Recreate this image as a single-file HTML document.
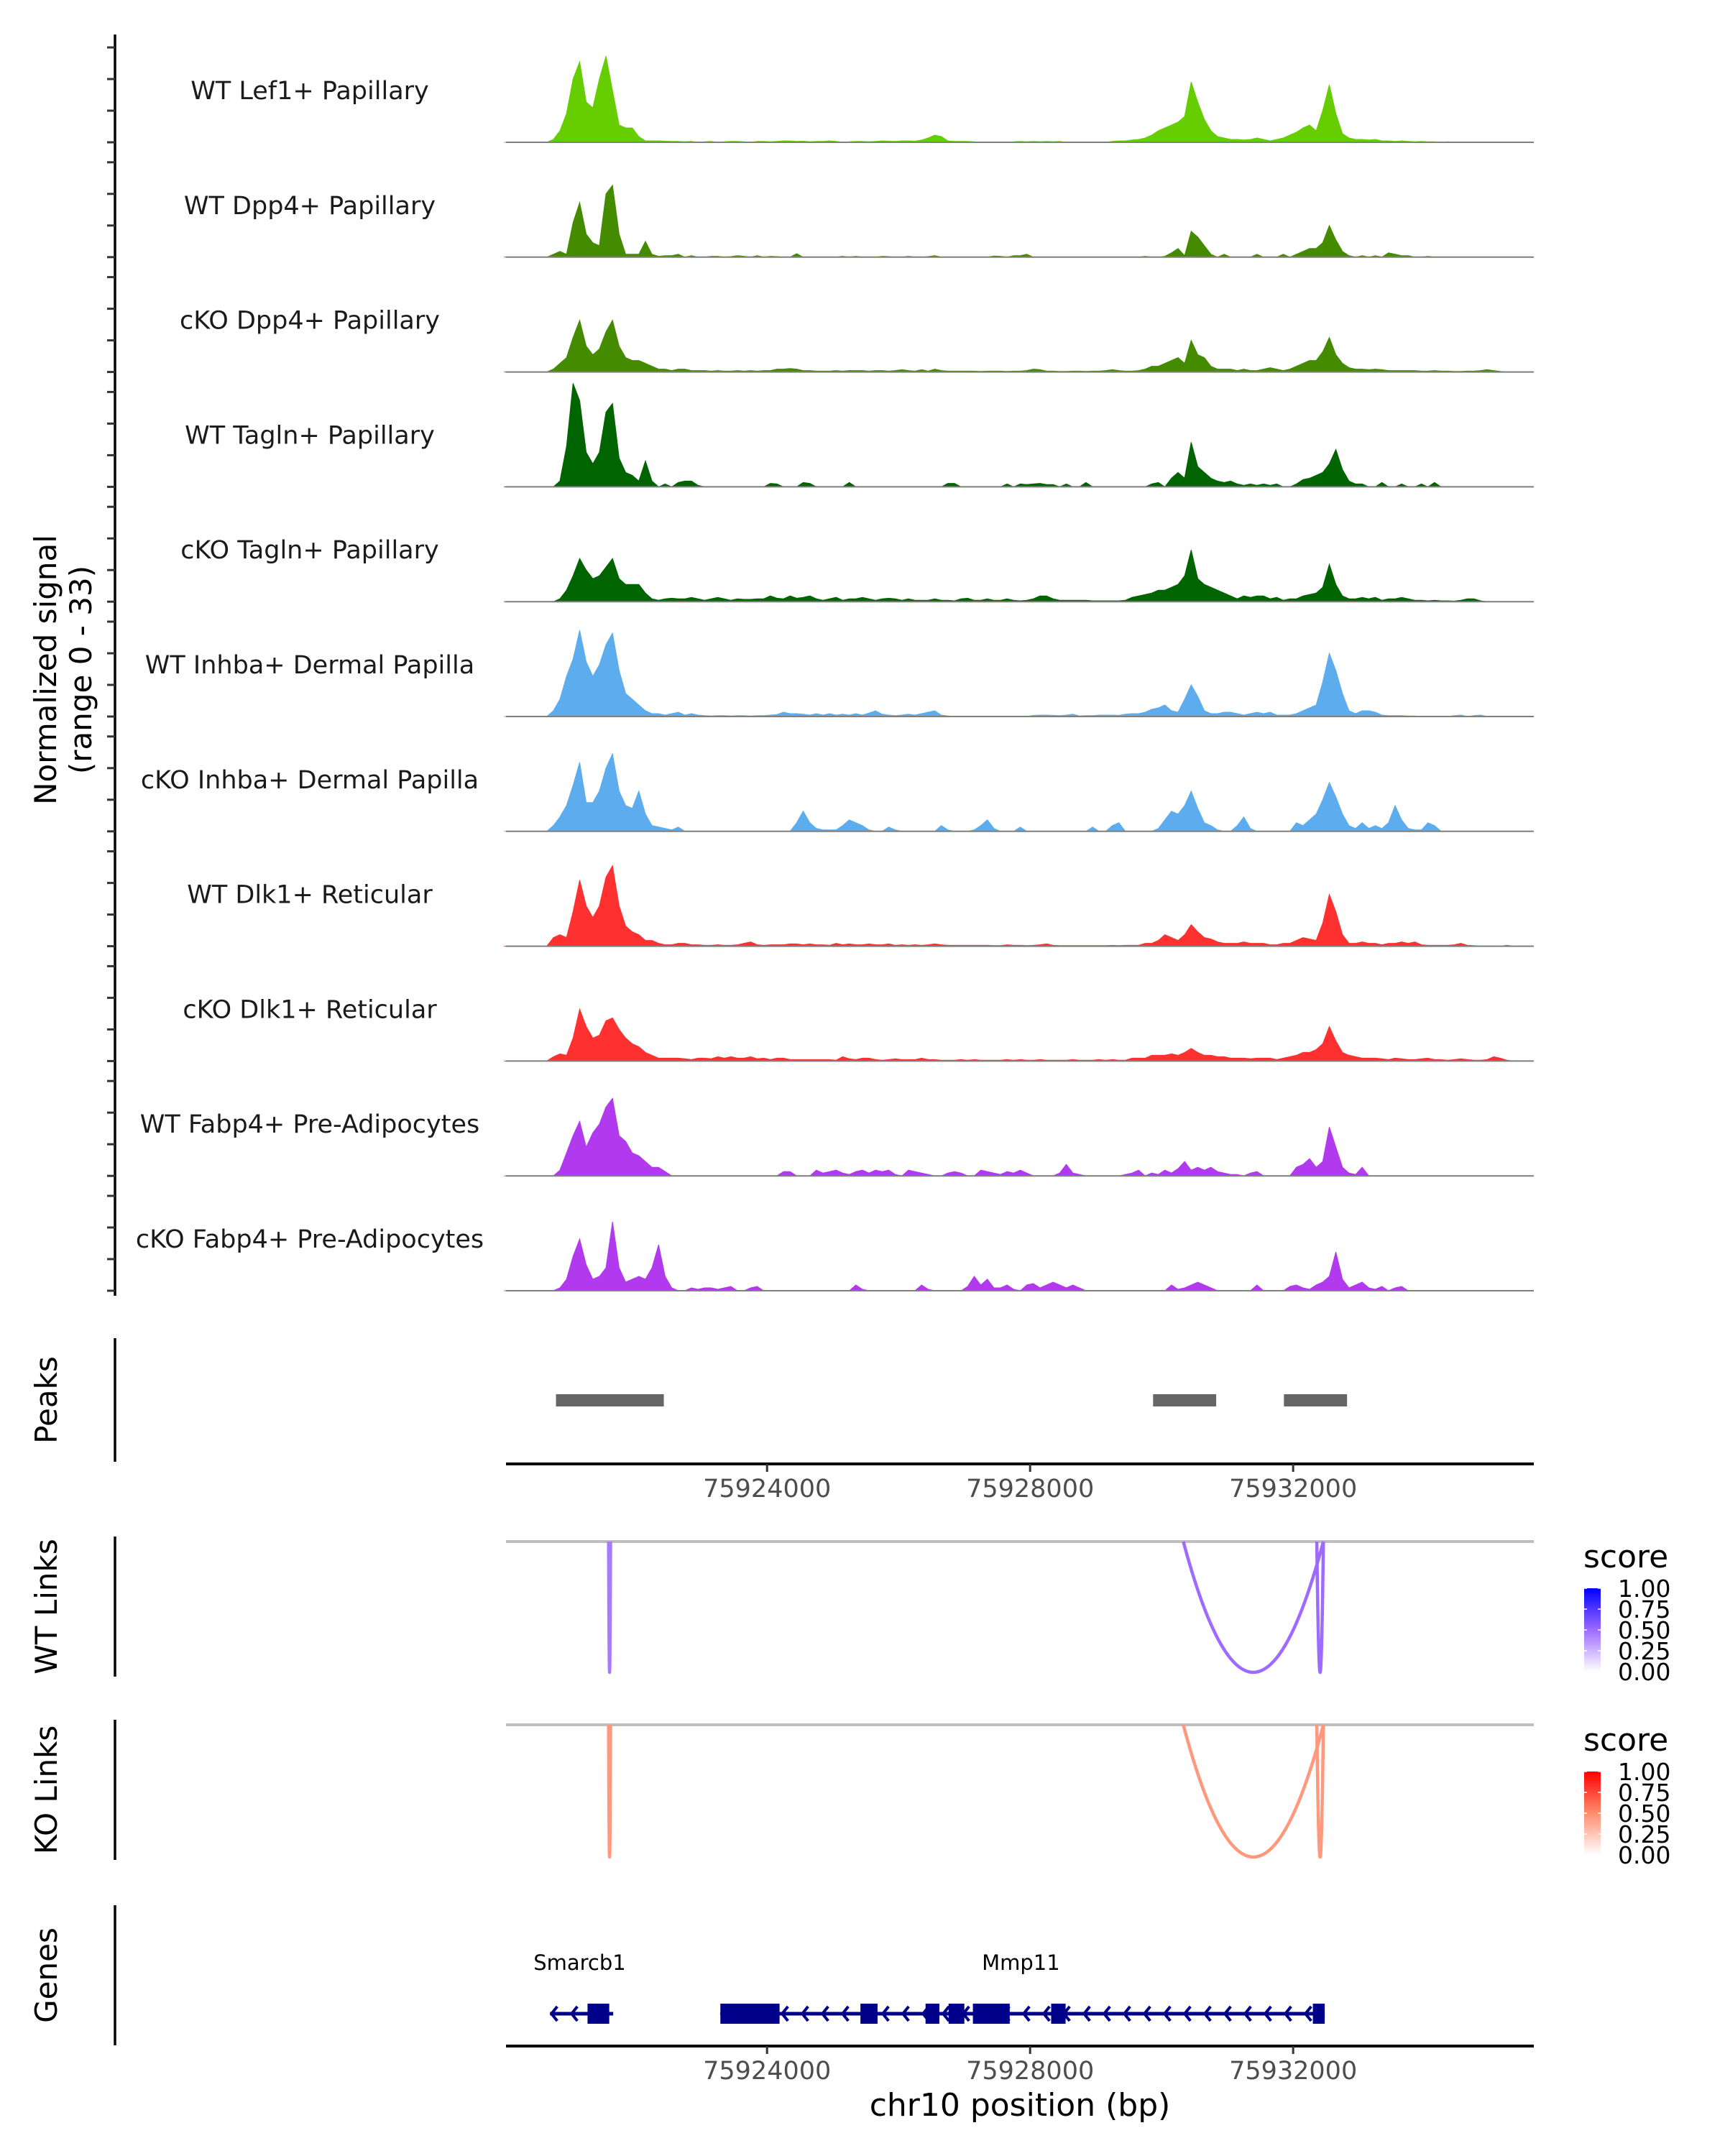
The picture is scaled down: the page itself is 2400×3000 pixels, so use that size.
<!DOCTYPE html>
<html><head><meta charset="utf-8"><style>
html,body{margin:0;padding:0;background:#fff;}
svg{display:block;font-family:"DejaVu Sans","Liberation Sans",sans-serif;}
</style></head><body>
<svg id="chart" width="2400" height="3000" viewBox="0 0 2400 3000" xmlns="http://www.w3.org/2000/svg">
<g id="tracks"></g>
<g id="yaxis"></g>
<text transform="translate(78,932) rotate(-90)" text-anchor="middle" font-size="42" fill="#000">Normalized signal</text>
<text transform="translate(127,932) rotate(-90)" text-anchor="middle" font-size="42" fill="#000">(range 0 - 33)</text>
<g id="peaks"></g>
<g id="links"></g>
<g id="genes"></g>
</svg>
<script>
const NS="http://www.w3.org/2000/svg";
const trackNames=["WT Lef1+ Papillary","WT Dpp4+ Papillary","cKO Dpp4+ Papillary","WT Tagln+ Papillary","cKO Tagln+ Papillary","WT Inhba+ Dermal Papilla","cKO Inhba+ Dermal Papilla","WT Dlk1+ Reticular","cKO Dlk1+ Reticular","WT Fabp4+ Pre-Adipocytes","cKO Fabp4+ Pre-Adipocytes"];
const trackColors=["#66cd00","#458b00","#458b00","#006400","#006400","#5cacee","#5cacee","#ff3030","#ff3030","#b23aee","#b23aee"];
const binStart=75920000, binSize=100;
const sigLef1=[0,0,0,0,0,0,0,1,4,10,22,28,14,12,22,30,18,6,5,5,
2,0.5,0.5,0.5,0.4,0.3,0.3,0.2,0.3,0,0.2,0.3,0,0.2,0.3,0.3,0.2,0,0.3,0.3,
0.2,0.3,0.5,0.5,0.3,0.4,0.2,0.3,0.3,0.5,0.3,0,0.2,0.3,0.3,0.2,0.3,0.5,0.4,0.3,
0.5,0.5,0.4,0.8,1.5,2.5,2,0.5,0.3,0.3,0.3,0.2,0,0,0,0,0,0.2,0.3,0.2,
0.3,0.2,0.3,0.2,0.3,0,0,0,0,0,0,0,0.3,0.5,0.5,0.8,1,1.5,2.5,4,
5,6,7,9,21,14,8,4,2,1.5,1,1,0.8,1,1.5,1,0.5,1,1.5,2.5,
3.5,5,6,4,11,20,10,3,1.5,1,1,0.8,1,0.5,0.5,0.3,0.5,0.3,0.2,0.3,
0.2,0.2,0,0.2,0,0,0,0,0,0,0,0,0,0,0,0];
const sigDpp4WT=[0,0,0,0,0,0,0,1,2,1,12,19,8,5,4,22,25,8,1,1,
1,5.5,1,0.3,0.5,0.5,1,0,0.5,0,0,0.3,0.3,0,0.2,0.5,0.3,0,0.5,0,
0.3,0.2,0,0,1.2,0,0,0,0,0,0,0.3,0,0.3,0,0,0,0.3,0.2,0,
0,0.3,0,0,0.2,0.5,0,0,0,0,0,0,0,0,0.4,0.3,0,0.5,0.5,1,
0,0,0,0,0,0,0,0,0,0,0,0,0,0,0,0,0,0.3,0,0,
0.3,1.5,3,0.5,9,7,4,1,0,1,0,0,0,0,1,0,0,0,1,0,
1,2,3,3,5,11,6,2,0.5,0,0.5,0,0.5,0,1.5,1,0.5,0.5,0,0,
0.3,0,0,0,0,0,0,0,0,0,0,0,0,0,0,0];
const sigDpp4KO=[0,0,0,0,0,0,0,1,3,5,12,18,9,6,8,14,18,9,5,4,
4,3,2,1,1,0.5,1,1,0.5,0.5,0.5,0.3,0.5,0.3,0.3,0.5,0.3,0.5,0.3,0.5,
0.5,1,1,1.2,1,0.5,0.5,0.3,0.3,0.3,0.5,0.3,0.5,0.5,0.5,0.3,0.5,0.5,0.3,0.5,
0.8,0.5,0.3,0.8,0.3,1,0.5,0.3,0.3,0.3,0.3,0.3,0.2,0.3,0.3,0.3,0.2,0.3,0.3,0.5,
1,0.8,0.3,0.3,0.2,0.2,0.3,0.3,0.2,0.3,0.3,0.5,0.8,0.5,0.3,0.3,0.5,1,2,2,
3,4,5,3,11,6,5,2,1,1,1,0.5,1,0.5,0.5,1,1.5,1,0.5,1,
2,3,4,4,7,12,6,3,1.5,1,1,0.8,1,0.8,0.5,0.5,0.5,0.5,0.5,0.3,
0.3,0.5,0.3,0.3,0.2,0.2,0.3,0.3,0.5,0.8,0.5,0.2,0,0,0,0];
const sigTaglnWT=[0,0,0,0,0,0,0,0,2,14,36,30,12,8,12,26,29,10,5,4,
2,9,2,0,1,0,1.5,2,2,0.5,0,0,0,0,0,0,0,0,0,0,
1.2,1,0,0,0,1.5,1.2,0,0,0,0,0,1.5,0,0,0,0,0,0,0,
0,0,0,0,0,0,0,1.2,1.2,0,0,0,0,0,0,0,1,0,1,0.8,
1,1.2,0.8,0.8,0,1,0,0,1.5,0,0,0,0,0,0,0,0,0,1,1.5,
0,3,5,3,15.5,7,5,3,2,1.5,2,1,0.5,1,0.5,1,0.5,1,0,0,
1,2.5,3,4,5,8,13,6,2,1,1,0,0,1.5,0,0,1,0,0,1,
0,1.5,0,0,0,0,0,0,0,0,0,0,0,0,0,0];
const sigTaglnKO=[0,0,0,0,0,0,0,0,1,4,9,15,11,8,9,12,15,8,6,6,
6,3,1,0.5,1,1.2,1,1,1.5,1,0.5,1,1.5,1,0.5,1,0.8,0.8,1,1,
2,1.2,1,2,1.2,1.5,2,1,0.5,1,1.5,0.5,1,1,1.5,1,0.5,1,1.2,1,
0.5,1,0.5,0.5,0.5,1,0.5,0.5,0.3,1,1.2,0.5,0.5,1,0.5,0.5,1,0.5,0.3,0.5,
1,2,2,1,0.5,0.5,0.5,0.5,0.5,0.3,0.3,0.3,0.3,0.3,0.5,1.5,2,2.5,3,4,
4,5,6,9,18,8,6,5,4,3,2,1,2,1.5,2,2,1,1.5,0.5,1,
1,2,2.5,3,5,13,6,2,1,1,1.5,1,1.5,0.5,1,1,1.5,1,0.5,0.5,
0.3,0.5,0.3,0.3,0.2,0.5,1,1,0.3,0,0,0,0,0,0,0];
const sigInhbaWT=[0,0,0,0,0,0,0,2,6,14,20,30,19,14,18,25,29,16,8,6,
4,2,1,1,0.5,1,1.5,0.5,1,0.5,0.3,0.2,0.3,0.3,0.2,0.3,0.3,0.2,0.3,0.3,
0.5,0.7,1.5,1,1,0.8,0.5,1,0.5,1,0.5,0.8,0.5,1,0.5,1.2,2,0.8,0.5,0.3,
0.5,0.8,0.5,1,1.5,2,0.5,0.2,0,0,0,0,0,0,0,0,0,0,0,0,
0.4,0.5,0.5,0.4,0.3,0.5,0.8,0.2,0.3,0.3,0.5,0.5,0.5,0.4,0.8,1,1,1.5,2.5,3,
4,2,1.5,6,11,7,2,1,1,1.5,1.5,1,0.5,1,1.5,1,1.5,0.5,0.5,0.5,
1,2,3,4,12,22,16,8,2,1,2,2,1.5,0.5,0.3,0.3,0.3,0.2,0.2,0,
0,0,0,0,0.3,0.5,0,0.3,0.5,0,0,0,0,0,0,0];
const sigInhbaKO=[0,0,0,0,0,0,0,2,5,9,16,24,10,10,14,22,27,14,9,8,
14,6,2,1.5,1,0.5,1.5,0,0,0,0,0,0,0,0,0,0,0,0,0,
0,0,0,0,3,7,3,1,0.5,0.5,0.5,2,4,3,2,0.5,0,0,1.5,0.5,
0,0,0,0,0,0,2,0.5,0,0,0,0.5,2,4,1,0,0,0,1.5,0,
0,0,0,0,0,0,0,0,0,1.5,0,0,2,3,0,0,0,0,0,1,
4,7,6,9,14,8,3,2,0.5,0,0,2,5,1,0,0,0,0,0,0,
3,2,4,6,11,17,12,6,2,1,3,1,2,1,3,9,4,1,0.5,0.5,
3,2,0,0,0,0,0,0,0,0,0,0,0,0,0,0];
const sigDlk1WT=[0,0,0,0,0,0,0,3,4,3,12,23,14,10,14,24,28,14,7,5,
4,2,2,1,0.5,0.5,1,1,0.5,0.5,0.3,0.3,0.5,0.3,0.3,0.5,1,1.5,0.5,0.3,
0.5,0.5,0.5,0.8,0.8,0.5,0.8,0.5,0.5,0.3,1,0.5,0.8,0.5,0.5,0.8,0.5,0.5,0.8,0.3,
0.5,0.3,0.5,0.3,0.5,0.8,0.5,0.3,0.3,0.3,0.3,0.3,0.3,0.3,0.2,0.2,0.5,0.3,0.3,0.2,
0.3,0.5,0.8,0.3,0.2,0.2,0.2,0.2,0.2,0.2,0.2,0.2,0.3,0.2,0.3,0.3,0.3,1,1,2,
4,3,2,4,7.5,5,3,2.5,1.5,1,1,1,1.5,1,1,1,0.5,0.5,1,1,
2,3,2.5,2,8,18,12,4,1,1,1.5,1,1,0.5,1,1,1.5,1,1.5,0.5,
0.3,0.3,0.3,0.3,0.5,1,0.3,0.2,0,0,0,0,0.3,0,0,0];
const sigDlk1KO=[0,0,0,0,0,0,0,1.5,2.5,2,8,18,12,8,9,14,15,11,8,6,
5,3,2,1,1,1,1,0.8,0.5,1,1,0.8,1.5,1,1.5,1,1,1.5,0.8,1,
0.5,1,1,0.5,0.5,0.5,0.5,0.5,0.5,0.5,0.3,1.5,0.8,0.5,1,1,0.5,0.3,0.5,0.8,
0.5,0.5,0.5,1,0.5,0.5,0.3,0.3,0.3,0.5,0.3,0.5,0.3,0.3,0.3,0.3,0.5,0.3,0.5,0.3,
0.3,0.5,0.3,0.3,0.3,0.3,0.5,0.3,0.3,0.3,0.5,0.3,0.5,0.3,0.3,1,1,1,2,2,
2,2.5,2,3,4.4,3,2,2,1.5,1.5,1,1,1,0.8,1,1,1,0.5,1,1.5,
2,3,3,4,6,12,7,3,2,1.5,1,1,1,0.8,0.5,1,0.8,0.5,0.5,0.8,
1,0.5,0.5,0.3,0.5,0.8,0.5,0.3,0.3,0.5,1.5,1,0.3,0,0,0];
const sigFabp4WT=[0,0,0,0,0,0,0,0,2,8,14,19,10,15,18,24,27,14,12,8,
7,5,3,3,1.5,0,0,0,0,0,0,0,0,0,0,0,0,0,0,0,
0,0,1.5,1.5,0,0,0,2,1,1.5,2,1,0.5,1.5,2,1,2,1.5,2,0.5,
0,2,1.5,1,0.5,0,0,1,1.5,1,0,0,2,1.5,1,0.5,1.5,1,2,1,
0,0,0,0,1,4,1,0.5,0,0,0,0,0,0,0.5,1,2,0,1,0.5,
2,1,2.5,5,2,3,2,3,1.5,1,0.5,0.5,0,1,1.5,0,0,0,0,0,
3,4,6,3,5,17,10,3,1,0.5,3,0,0,0,0,0,0,0,0,0,
0,0,0,0,0,0,0,0,0,0,0,0,0,0,0,0];
const sigFabp4KO=[0,0,0,0,0,0,0,0,1,4,12,18,9,4,5,8,24,8,3,4,
5,4,8,16,5,1,0,0,1,0.5,1,1,0.5,1,1.5,0,0,1,1.5,0,
0,0,0,0,0,0,0,0,0,0,0,0,0,2,0.5,0,0,0,0,0,
0,0,0,2,0.5,0,0,0,0,0,1.5,5,2,4,1,1,2,0.5,0,2,
2.5,1,2,3,2,1,2,1,0,0,0,0,0,0,0,0,0,0,0,0,
0,2,0.5,1,2,3,2,1,0,0,0,0,0,0,2,0,0,0,0,1.5,
2,1,0.5,2,3,5,13.5,4,1,2,3,1,0.5,1.5,0,1,1.5,0,0,0,
0,0,0,0,0,0,0,0,0,0,0,0,0,0,0,0];
const signals=[sigLef1,sigDpp4WT,sigDpp4KO,sigTaglnWT,sigTaglnKO,sigInhbaWT,sigInhbaKO,sigDlk1WT,sigDlk1KO,sigFabp4WT,sigFabp4KO];
const signalTicks=[0,11,22,33];
const peakStarts=[75920790,75929870,75931860];
const peakEnds=[75922430,75930830,75932820];
const axisTicks=[75924000,75928000,75932000];
const axisTickLabels=["75924000","75928000","75932000"];
const wtLinkStarts=[75921590,75930330,75932360];
const wtLinkEnds=[75921620,75932460,75932460];
const wtLinkScores=[0.45,0.5,0.5];
const koLinkStarts=[75921590,75930330,75932360];
const koLinkEnds=[75921620,75932460,75932460];
const koLinkScores=[0.45,0.45,0.45];
const legendTicks=[0,0.25,0.5,0.75,1];
const legendTickLabels=["0.00","0.25","0.50","0.75","1.00"];
const geneNames=["Smarcb1","Mmp11"];
const geneStarts=[75920700,75923290];
const geneEnds=[75921660,75932480];
const geneLabelPos=[75921150,75927860];
const exonStarts=[75921270,75923290,75925420,75926410,75926760,75927130,75928320,75932300];
const exonEnds=[75921600,75924190,75925680,75926620,75927000,75927690,75928540,75932480];

const X0=75920030,X1=75935660,PX0=704,PX1=2134;
function xs(bp){return PX0+(bp-X0)*(PX1-PX0)/(X1-X0);}
const UNIT=4;
function ys(base,v){return base-Math.min(v,36.5)*UNIT;}
function mk(tag,attrs,parent){const e=document.createElementNS(NS,tag);for(const k in attrs)e.setAttribute(k,attrs[k]);parent.appendChild(e);return e;}

const gT=document.getElementById('tracks'), gY=document.getElementById('yaxis');
const axl=mk('line',{x1:160,y1:48,x2:160,y2:1803,stroke:'#000','stroke-width':3.5},gY);


signals.forEach((arr,i)=>{
  const base=198+i*159.8;
  const g=mk('g',{},gT);
  
  
  let d='M'+xs(binStart).toFixed(1)+','+base;
  arr.forEach((v,b)=>{d+=' L'+xs(binStart+b*binSize+binSize/2).toFixed(1)+','+ys(base,v).toFixed(1);});
  d+=' L'+xs(binStart+arr.length*binSize).toFixed(1)+','+base+' Z';
  const p=mk('path',{d:d,fill:trackColors[i],stroke:trackColors[i],'stroke-width':1},g);
  
  
  const bl=mk('line',{x1:PX0,y1:base,x2:PX1,y2:base,stroke:'#7f7f7f','stroke-width':2},g);
  
  
  const t=mk('text',{x:431,y:base-60,'text-anchor':'middle','font-size':35,fill:'#1a1a1a'},g);
  t.textContent=trackNames[i];
  
  
  signalTicks.forEach(v=>{
    const tk=mk('line',{x1:149,y1:ys(base,v),x2:160,y2:ys(base,v),stroke:'#333','stroke-width':3},gY);
    
    
  });
});

function sideAxis(y1,y2,label,parent){
  const l=mk('line',{x1:160,y1:y1,x2:160,y2:y2,stroke:'#000','stroke-width':3.5},parent);
  
  
  const t=mk('text',{transform:'translate(79,'+((y1+y2)/2)+') rotate(-90)','text-anchor':'middle','font-size':42,fill:'#000'},parent);
  t.textContent=label;
  
  
}
function xAxis(y,parent){
  const l=mk('line',{x1:PX0,y1:y,x2:PX1,y2:y,stroke:'#000','stroke-width':4},parent);
  
  
  axisTicks.forEach((v,i)=>{
    const tk=mk('line',{x1:xs(v),y1:y,x2:xs(v),y2:y+11,stroke:'#333','stroke-width':3},parent);
    
    
    const t=mk('text',{x:xs(v),y:y+46,'text-anchor':'middle','font-size':35,fill:'#4d4d4d'},parent);
    t.textContent=axisTickLabels[i];
    
    
  });
}
const gP=document.getElementById('peaks');
sideAxis(1862,2034,'Peaks',gP);
peakStarts.forEach((s,i)=>{
  const r=mk('rect',{x:xs(s),y:1940,width:xs(peakEnds[i])-xs(s),height:17,fill:'#666666'},gP);
  
  
});
xAxis(2037,gP);

const gL=document.getElementById('links');
function lerpC(c1,c2,t){return 'rgb('+c1.map((v,k)=>Math.round(v+(c2[k]-v)*t)).join(',')+')';}
function scoreColor(s,mid,top){const w=[255,255,255];return s<0.5?lerpC(w,mid,s/0.5):lerpC(mid,top,(s-0.5)/0.5);}
function linkTrack(y0,depth,starts,ends,scores,mid,top,title,legY,prefix){
  sideAxis(y0-7,y0+188,title,gL);
  const gl=mk('line',{x1:PX0,y1:y0,x2:PX1,y2:y0,stroke:'#bebebe','stroke-width':4},gL);
  
  
  starts.forEach((s,i)=>{
    const a=xs(s),b=xs(ends[i]),c=y0+depth*2;
    const p=mk('path',{d:'M'+a+','+y0+' Q'+((a+b)/2)+','+c+' '+b+','+y0,fill:'none',stroke:scoreColor(scores[i],mid,top),'stroke-width':4.5},gL);
    
    
  });
  const gid=prefix+'grad';
  const defs=mk('defs',{},gL);
  const lg=mk('linearGradient',{id:gid,x1:0,y1:1,x2:0,y2:0},defs);
  mk('stop',{offset:'0','stop-color':'#ffffff'},lg);
  mk('stop',{offset:'0.5','stop-color':'rgb('+mid.join(',')+')'},lg);
  mk('stop',{offset:'1','stop-color':'rgb('+top.join(',')+')'},lg);
  const t=mk('text',{x:2203,y:legY,'font-size':44,fill:'#000'},gL);
  t.textContent='score';
  
  
  const by0=legY+29,bh=116;
  const bar=mk('rect',{x:2204,y:by0,width:23,height:bh,fill:'url(#'+gid+')'},gL);
  
  
  legendTicks.forEach((v,i)=>{
    const yy=by0+bh-v*bh;
    mk('line',{x1:2204,y1:yy,x2:2208,y2:yy,stroke:'#fff','stroke-width':1.5},gL);
    mk('line',{x1:2223,y1:yy,x2:2227,y2:yy,stroke:'#fff','stroke-width':1.5},gL);
    const lt=mk('text',{x:2251,y:yy+12,'font-size':33,fill:'#000'},gL);
    lt.textContent=legendTickLabels[i];
    
    
  });
}
linkTrack(2145,182,wtLinkStarts,wtLinkEnds,wtLinkScores,[157,107,255],[0,0,255],'WT Links',2181,'wt');
linkTrack(2400,184,koLinkStarts,koLinkEnds,koLinkScores,[255,140,110],[255,0,0],'KO Links',2436,'ko');

const gG=document.getElementById('genes');
sideAxis(2651,2846,'Genes',gG);
const GY=2802,GC='#00008b';
geneStarts.forEach((s,i)=>{
  const a=xs(s),b=xs(geneEnds[i]);
  const l=mk('line',{x1:a,y1:GY,x2:b,y2:GY,stroke:GC,'stroke-width':5},gG);
  
  
  for(let x=a+2;x<b-8;x+=28){
    const c=mk('path',{d:'M'+(x+8)+','+(GY-10)+' L'+x+','+GY+' L'+(x+8)+','+(GY+10),fill:'none',stroke:GC,'stroke-width':4},gG);
    
    
  }
  const t=mk('text',{x:xs(geneLabelPos[i]),y:2741,'text-anchor':'middle','font-size':29,fill:'#000'},gG);
  t.textContent=geneNames[i];
  
  
});
exonStarts.forEach((s,i)=>{
  const r=mk('rect',{x:xs(s),y:2788,width:xs(exonEnds[i])-xs(s),height:28,fill:GC},gG);
  
  
});
xAxis(2847,gG);
const xt=mk('text',{x:1419,y:2944,'text-anchor':'middle','font-size':44,fill:'#000'},gG);
xt.textContent='chr10 position (bp)';


</script>
</body></html>
